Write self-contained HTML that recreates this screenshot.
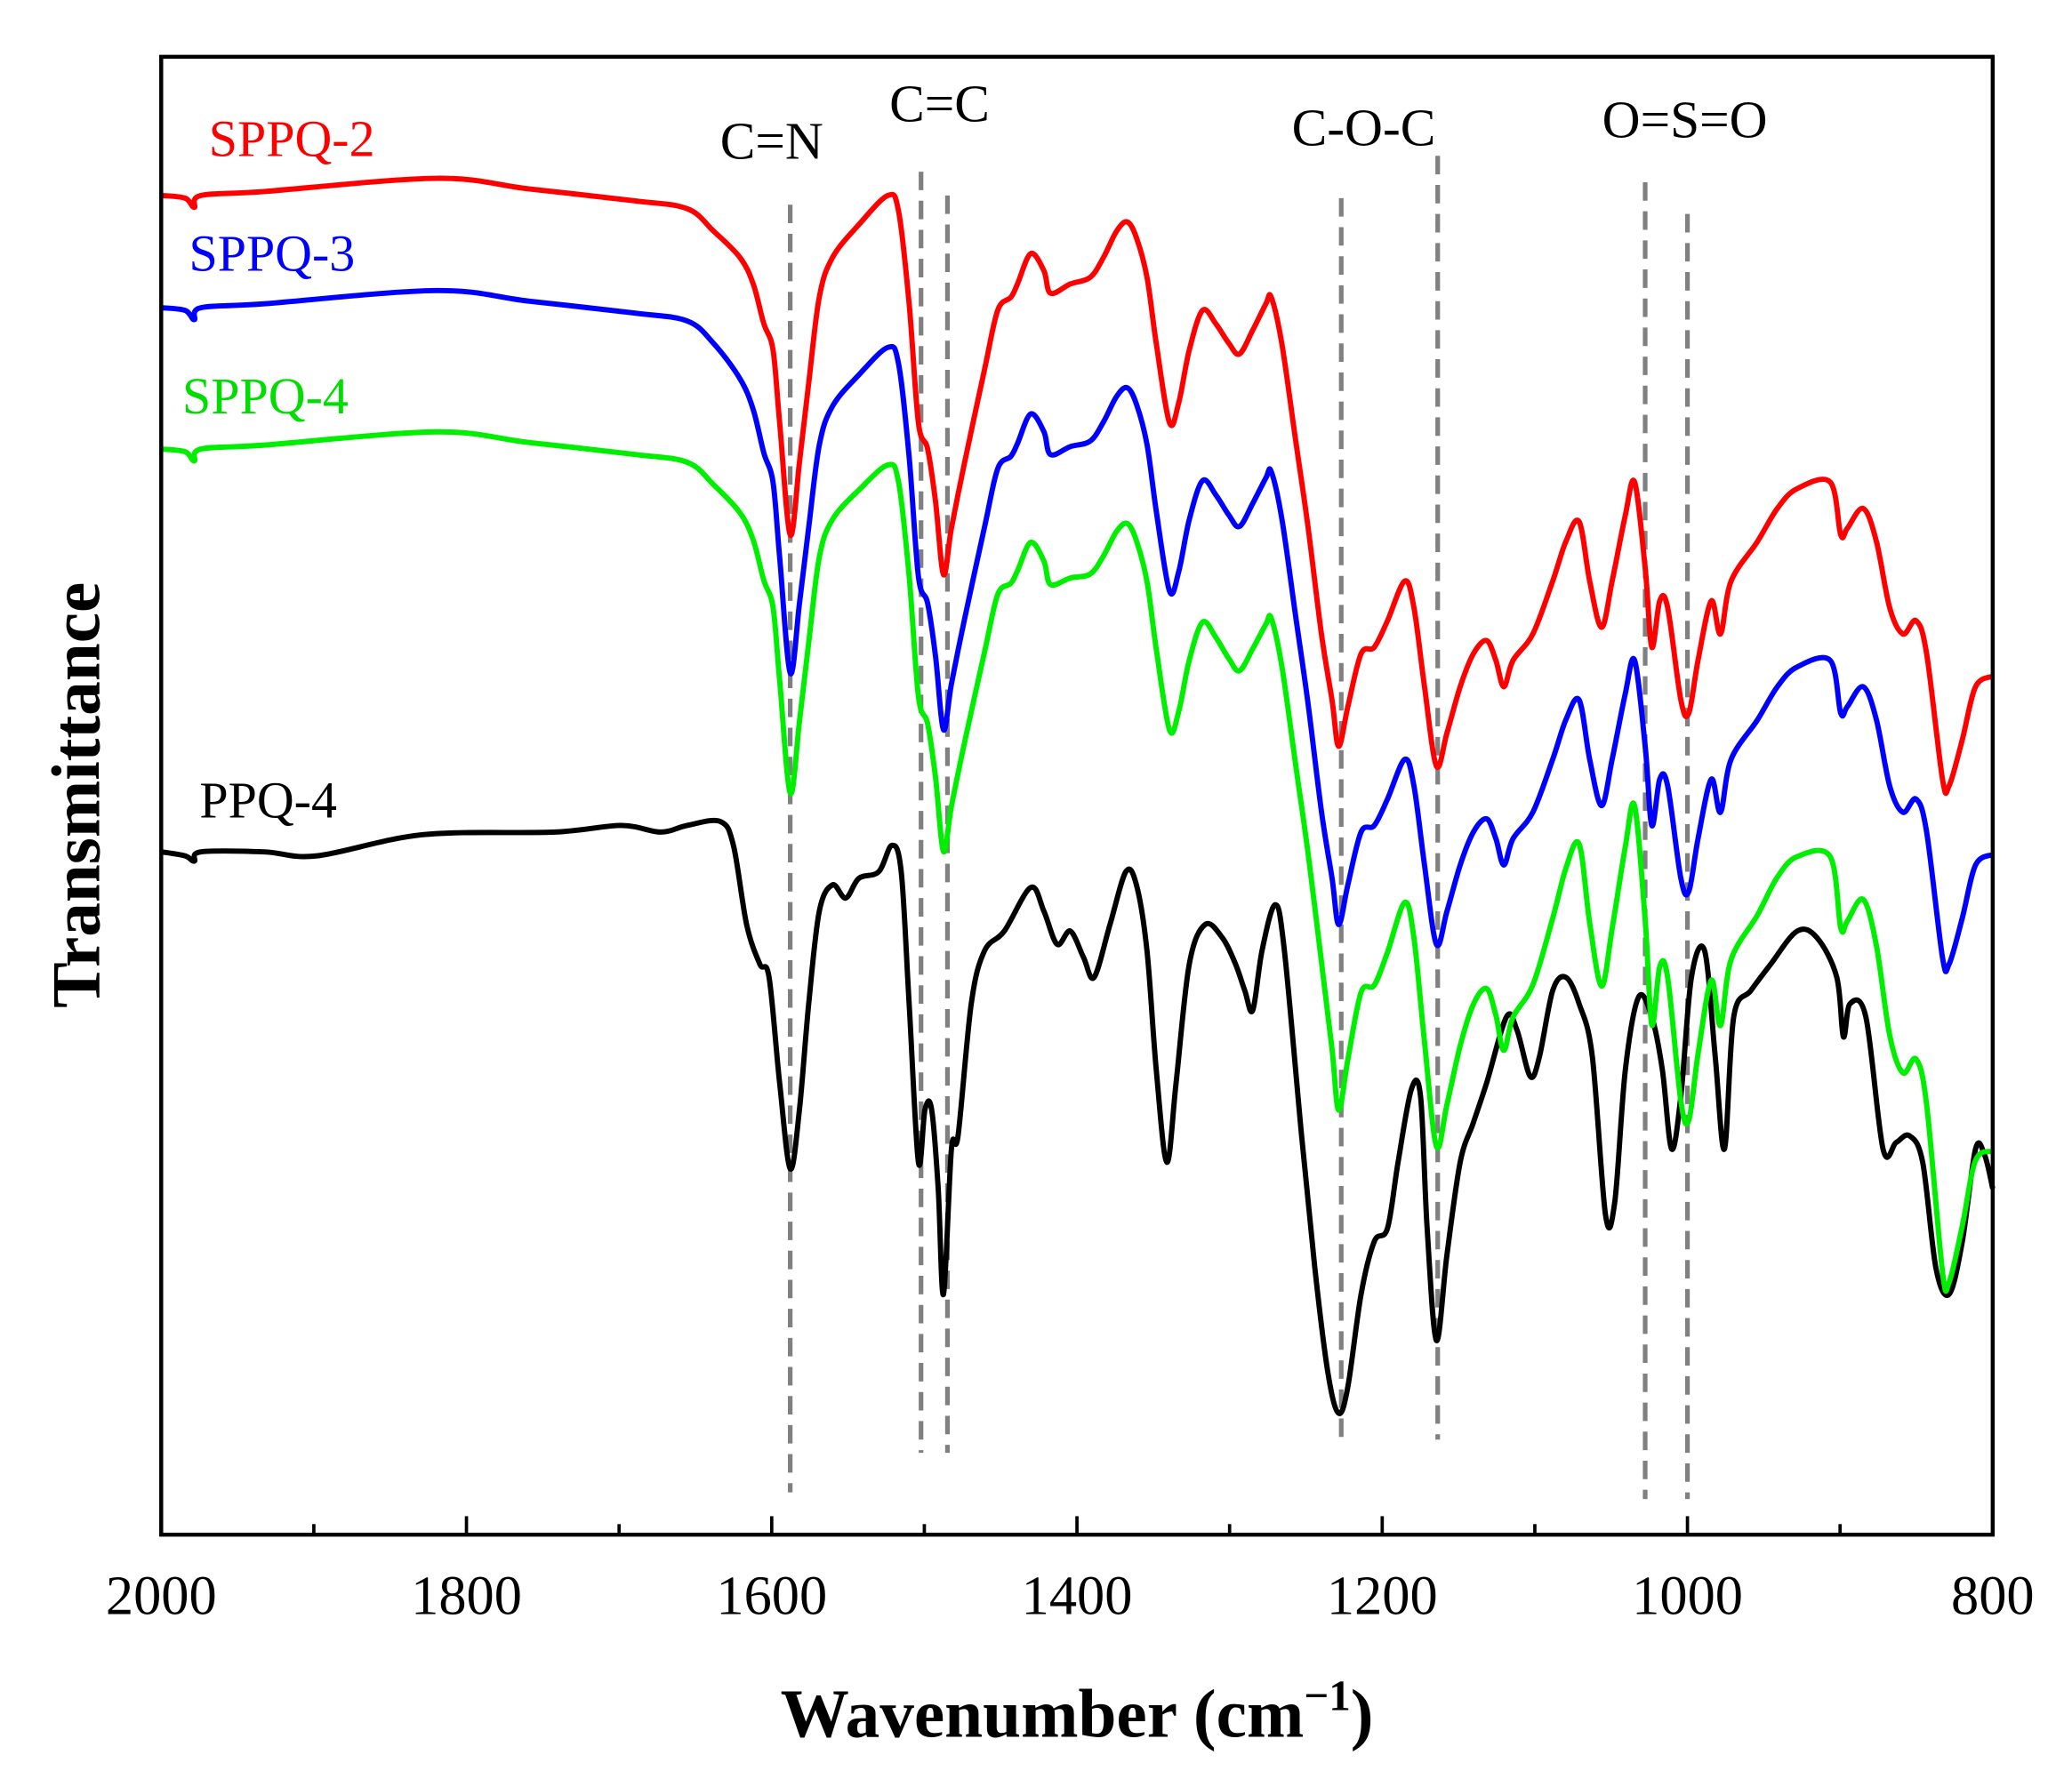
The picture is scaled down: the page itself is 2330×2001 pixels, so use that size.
<!DOCTYPE html>
<html><head><meta charset="utf-8"><style>html,body{margin:0;padding:0;background:#fff}svg{display:block}</style></head>
<body>
<svg id="s" width="2330" height="2001" viewBox="0 0 1568 1347" preserveAspectRatio="none" xmlns="http://www.w3.org/2000/svg" font-family="Liberation Serif, serif">
<rect x="0" y="0" width="1568" height="1347" fill="#fff"/>
<g id="dash" stroke="#808080" stroke-width="3.5" stroke-dasharray="14,8" fill="none">
<line x1="598" y1="155" x2="598" y2="1130"/>
<line x1="697" y1="130" x2="697" y2="1100"/>
<line x1="717" y1="148" x2="717" y2="1100"/>
<line x1="1015" y1="150" x2="1015" y2="1090"/>
<line x1="1088" y1="118" x2="1088" y2="1090"/>
<line x1="1245" y1="138" x2="1245" y2="1135"/>
<line x1="1277" y1="162" x2="1277" y2="1135"/>
</g>
<g id="curves" fill="none" stroke-width="4" stroke-linejoin="round"></g>
<rect x="122" y="43" width="1386" height="1119" fill="none" stroke="#000" stroke-width="3"/>
<g id="ticks" stroke="#000" stroke-width="2.5"></g>
<g font-size="42" text-anchor="middle" fill="#000">
<text x="122" y="1222">2000</text><text x="353" y="1222">1800</text><text x="584" y="1222">1600</text>
<text x="815" y="1222">1400</text><text x="1046" y="1222">1200</text><text x="1277" y="1222">1000</text><text x="1508" y="1222">800</text>
</g>
<g font-size="40" text-anchor="middle" fill="#000">
<text x="584" y="120">C=N</text><text x="711" y="92">C=C</text><text x="1032" y="110">C-O-C</text><text x="1275" y="104">O=S=O</text>
</g>
<g font-size="39">
<text x="158" y="118" fill="#ff0000">SPPQ-2</text>
<text x="143" y="205" fill="#0000ff">SPPQ-3</text>
<text x="138" y="313" fill="#00dd00">SPPQ-4</text>
<text x="151" y="619" fill="#000">PPQ-4</text>
</g>
<text x="815" y="1315" font-size="52" font-weight="bold" text-anchor="middle">Wavenumber (cm<tspan dy="-20" font-size="33">−1</tspan><tspan dy="20">)</tspan></text>
<text transform="translate(75,602) rotate(-90)" font-size="52" font-weight="bold" text-anchor="middle">Transmittance</text>
</svg>
<script>
var red=[[122,148],[140,150],[147,157],[152,148],[200,145],[330,135],[400,143],[480,152],[520,158],[540,175],[560,195],[570,215],[578,245],[585,265],[590,320],[598,405],[605,350],[612,290],[620,225],[630,195],[650,170],[672,148],[680,160],[688,230],[695,320],[702,340],[708,380],[714,435],[720,400],[730,350],[745,280],[755,235],[765,225],[770,215],[780,192],[790,205],[795,222],[810,215],[825,210],[835,195],[845,175],[853,168],[860,180],[868,210],[875,260],[885,320],[892,305],[900,265],[910,235],[920,245],[930,260],[938,268],[948,250],[958,230],[962,225],[970,260],[980,330],[990,400],[1000,480],[1008,530],[1013,565],[1020,535],[1030,495],[1040,490],[1050,470],[1063,440],[1070,460],[1078,520],[1087,580],[1095,555],[1105,520],[1115,495],[1125,485],[1132,500],[1138,520],[1145,500],[1160,480],[1175,440],[1185,410],[1195,395],[1203,440],[1212,475],[1220,440],[1230,390],[1237,365],[1245,430],[1250,490],[1256,455],[1262,460],[1272,530],[1278,540],[1285,500],[1295,455],[1302,480],[1310,440],[1330,410],[1345,385],[1360,370],[1385,365],[1393,405],[1398,400],[1410,385],[1420,410],[1430,460],[1440,480],[1450,470],[1458,495],[1470,590],[1475,595],[1485,560],[1495,520],[1508,512]];
var blk=[[122,645],[140,648],[147,652],[152,645],[200,645],[240,648],[320,632],[420,630],[470,625],[500,630],[520,625],[545,622],[555,640],[565,700],[575,730],[582,740],[590,820],[598,885],[605,840],[612,760],[620,690],[630,670],[640,680],[650,665],[665,660],[675,640],[682,660],[688,760],[695,880],[700,840],[705,840],[710,900],[714,980],[720,870],[725,860],[735,760],[745,720],[760,705],[780,672],[790,690],[800,715],[810,705],[820,725],[828,740],[840,700],[852,660],[860,670],[868,720],[875,810],[883,880],[890,820],[900,730],[912,700],[925,710],[935,730],[942,750],[948,765],[955,720],[965,685],[972,720],[985,860],[995,960],[1005,1040],[1013,1070],[1020,1050],[1030,980],[1040,940],[1050,930],[1058,880],[1068,825],[1075,830],[1080,930],[1087,1015],[1095,950],[1105,880],[1115,850],[1125,820],[1140,770],[1148,780],[1158,815],[1165,800],[1175,750],[1185,740],[1195,760],[1205,800],[1215,920],[1222,910],[1230,810],[1240,755],[1250,770],[1258,810],[1265,870],[1272,830],[1280,740],[1290,720],[1298,800],[1305,870],[1312,770],[1325,750],[1340,730],[1360,705],[1375,710],[1390,740],[1395,785],[1400,760],[1412,770],[1425,870],[1435,865],[1445,860],[1455,880],[1465,960],[1475,980],[1485,940],[1495,870],[1502,875],[1508,900]];
function lin(x,a){for(var i=0;i<a.length-1;i++){if(x<=a[i+1][0]){var t=(x-a[i][0])/(a[i+1][0]-a[i][0]);return a[i][1]+t*(a[i+1][1]-a[i][1]);}}return a[a.length-1][1];}
var blue=red.map(function(p){return [p[0],p[1]+lin(p[0],[[0,85],[540,85],[620,112],[1013,135],[1600,135]])];});
var green=red.map(function(p){var y=p[1];return [p[0],y+lin(p[0],[[0,192],[540,192],[620,197],[1013,250],[1200,270],[1508,350]])+(p[0]>1000?(y-480)*0.3:0)];});
function path(pts){var d="M"+pts[0][0]+","+pts[0][1];for(var i=0;i<pts.length-1;i++){var p0=pts[i-1]||pts[i],p1=pts[i],p2=pts[i+1],p3=pts[i+2]||p2;var c1x=p1[0]+(p2[0]-p0[0])/6,c1y=p1[1]+(p2[1]-p0[1])/6,c2x=p2[0]-(p3[0]-p1[0])/6,c2y=p2[1]-(p3[1]-p1[1])/6;d+=" C"+c1x.toFixed(1)+","+c1y.toFixed(1)+" "+c2x.toFixed(1)+","+c2y.toFixed(1)+" "+p2[0]+","+p2[1].toFixed(1);}return d;}
var ns="http://www.w3.org/2000/svg",g=document.getElementById("curves");
[[blk,"#000"],[green,"#00ee00"],[blue,"#0000ff"],[red,"#ff0000"]].forEach(function(s){var e=document.createElementNS(ns,"path");e.setAttribute("d",path(s[0]));e.setAttribute("stroke",s[1]);g.appendChild(e);});
var t=document.getElementById("ticks");
for(var v=2000;v>=800;v-=100){var x=122+(2000-v)*1.155;var l=document.createElementNS(ns,"line");var len=(v%200==0)?14:8;l.setAttribute("x1",x);l.setAttribute("x2",x);l.setAttribute("y1",1162);l.setAttribute("y2",1162-len);t.appendChild(l);}
</script>
</body></html>
